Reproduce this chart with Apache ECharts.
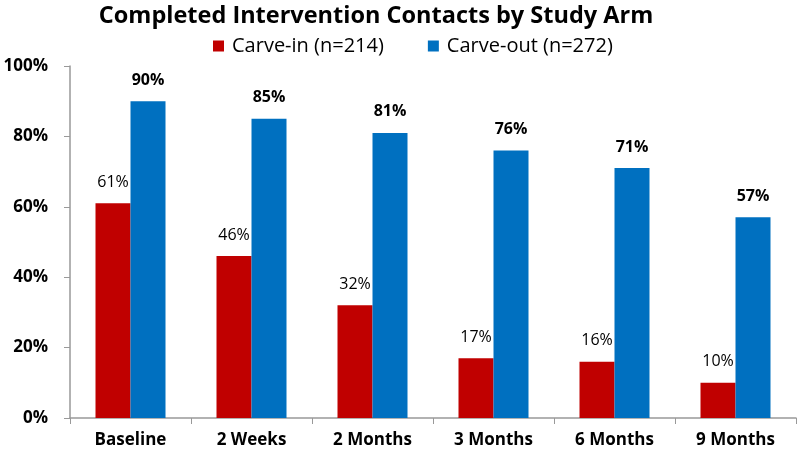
<!DOCTYPE html>
<html><head><meta charset="utf-8">
<script src="https://cdn.jsdelivr.net/npm/echarts@6/dist/echarts.min.js"></script>
<style>html,body{margin:0;padding:0;background:#fff}#c{width:799px;height:457px}</style>
</head><body><div id="c"></div>
<script>
const categories = ['Baseline','2 Weeks','2 Months','3 Months','6 Months','9 Months'];
const carveIn = [61,46,32,17,16,10];
const carveOut = [90,85,81,76,71,57];
const seriesNames = ['Carve-in (n=214)','Carve-out (n=272)'];
const yTicks = [0,20,40,60,80,100];
const FONT = 'Open Sans';
const chart = echarts.init(document.getElementById('c'));
chart.setOption({
  animation:false,
  title:{text:'Completed Intervention Contacts by Study Arm',left:371,textAlign:'center',top:-1,
    textStyle:{fontFamily:FONT,fontWeight:'bold',fontSize:23.5,color:'#000'}},
  legend:{top:31,left:208,itemWidth:11,itemHeight:11,itemGap:44,
    icon:'rect',textStyle:{fontFamily:FONT,fontSize:20,color:'#000',padding:[0,0,0,3]},
    data:seriesNames},
  grid:{left:70,right:3,top:66,bottom:39},
  xAxis:{type:'category',data:categories,
    axisLine:{lineStyle:{color:'#999',width:1.5}},
    axisTick:{show:true,length:6,lineStyle:{color:'#999'}},
    axisLabel:{fontFamily:FONT,fontWeight:'bold',fontSize:17,color:'#000',margin:14}},
  yAxis:{type:'value',min:0,max:100,interval:20,
    axisLine:{show:true,lineStyle:{color:'#999',width:1.5}},
    axisTick:{show:true,length:6,lineStyle:{color:'#999'}},
    splitLine:{show:false},
    axisLabel:{fontFamily:FONT,fontWeight:'bold',fontSize:17,color:'#000',margin:22,
      formatter:v=>yTicks.includes(v)?v+'%':''}},
  series:[
    {name:seriesNames[0],type:'bar',data:carveIn,barWidth:35,barGap:'0%',
      itemStyle:{color:'#C00000'},
      label:{show:true,position:'top',distance:13,formatter:'{c}%',
        fontFamily:FONT,fontSize:16,color:'#000'}},
    {name:seriesNames[1],type:'bar',data:carveOut,barWidth:35,
      itemStyle:{color:'#0070C0'},
      label:{show:true,position:'top',distance:13,formatter:'{c}%',
        fontFamily:FONT,fontWeight:'bold',fontSize:16,color:'#000'}}
  ]
});
</script></body></html>
